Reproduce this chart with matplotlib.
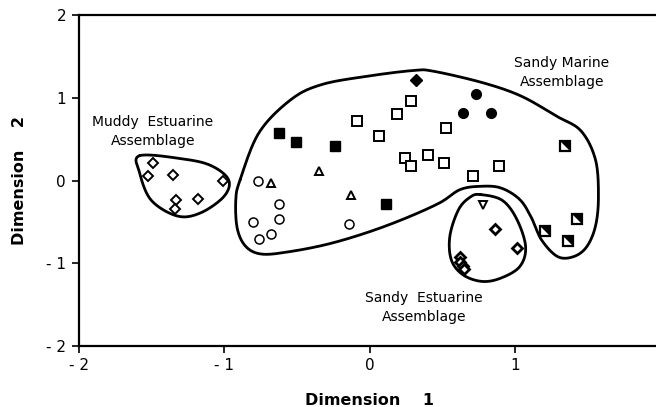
import numpy as np
import matplotlib
matplotlib.use("Agg")
import matplotlib.pyplot as plt

plt.rcParams['font.family'] = ['DejaVu Sans']

# --- sample scores (MDS dimension 1 / dimension 2) ---
muddy_x = [-1.49, -1.52, -1.35, -1.01, -1.33, -1.34, -1.18]
muddy_y = [0.21, 0.05, 0.07, 0.00, -0.24, -0.34, -0.22]

circ_x = [-0.77, -0.62, -0.62, -0.80, -0.68, -0.76, -0.14]
circ_y = [0.00, -0.29, -0.46, -0.50, -0.65, -0.71, -0.53]

tri_x = [-0.68, -0.35, -0.13]
tri_y = [-0.03, 0.11, -0.18]

fsq_x = [-0.62, -0.51, -0.24, 0.11]
fsq_y = [0.57, 0.46, 0.42, -0.28]

osq_x = [0.28, 0.19, -0.09, 0.06, 0.52, 0.24, 0.28, 0.40, 0.51, 0.89, 0.71]
osq_y = [0.96, 0.80, 0.72, 0.54, 0.64, 0.27, 0.17, 0.31, 0.21, 0.17, 0.05]

fcirc_x = [0.73, 0.64, 0.83]
fcirc_y = [1.05, 0.82, 0.81]

fdia_x = [0.32]
fdia_y = [1.21]

half_x = [1.34, 1.42, 1.20, 1.36]
half_y = [0.42, -0.46, -0.61, -0.73]

itri_x = [0.78]
itri_y = [-0.30]

sest_x = [0.86, 1.01, 0.62, 0.62, 0.64, 0.65]
sest_y = [-0.59, -0.82, -0.92, -0.98, -1.03, -1.07]

# --- hand drawn assemblage outlines (guide points, smoothed below) ---
muddy_hull = [(-1.58, 0.30), (-1.28, 0.26), (-1.09, 0.18), (-0.97, 0.01),
              (-1.00, -0.19), (-1.16, -0.39), (-1.32, -0.43), (-1.50, -0.24),
              (-1.58, 0.09)]
marine_hull = [(-0.89, 0.01), (-0.76, 0.58), (-0.54, 0.98), (-0.33, 1.16),
               (-0.02, 1.26), (0.30, 1.33), (0.44, 1.32), (0.78, 1.18),
               (1.04, 1.02), (1.28, 0.78), (1.45, 0.60), (1.55, 0.25),
               (1.57, -0.20), (1.55, -0.55), (1.49, -0.80), (1.40, -0.92),
               (1.29, -0.92), (1.18, -0.72), (1.11, -0.45), (1.03, -0.23),
               (0.90, -0.09), (0.76, -0.07), (0.62, -0.11), (0.48, -0.27),
               (0.24, -0.46), (-0.02, -0.63), (-0.29, -0.77), (-0.55, -0.86),
               (-0.74, -0.89), (-0.85, -0.80), (-0.91, -0.58), (-0.92, -0.23)]
sandy_hull = [(0.76, -0.17), (0.91, -0.24), (1.01, -0.47), (1.07, -0.80),
              (1.03, -1.04), (0.90, -1.18), (0.77, -1.22), (0.64, -1.14),
              (0.56, -0.96), (0.55, -0.67), (0.61, -0.35), (0.69, -0.20)]


def smooth_closed(pts, n=20):
    p = np.asarray(pts, dtype=float)
    m = len(p)
    out = []
    for i in range(m):
        p0, p1, p2, p3 = p[(i - 1) % m], p[i], p[(i + 1) % m], p[(i + 2) % m]
        t = np.linspace(0, 1, n, endpoint=False)[:, None]
        seg = 0.5 * ((2 * p1) + (-p0 + p2) * t
                     + (2 * p0 - 5 * p1 + 4 * p2 - p3) * t ** 2
                     + (-p0 + 3 * p1 - 3 * p2 + p3) * t ** 3)
        out.append(seg)
    out = np.vstack(out)
    return np.vstack([out, out[:1]])


fig = plt.figure(figsize=(6.56, 4.07), dpi=100)
ax = fig.add_axes([0.1197, 0.15, 0.888, 0.813])

for hull in (muddy_hull, marine_hull, sandy_hull):
    h = smooth_closed(hull)
    ax.plot(h[:, 0], h[:, 1], color='black', lw=2.0, solid_capstyle='round')

kw = dict(linestyle='none', color='black', mec='black')
ax.plot(muddy_x, muddy_y, marker='D', ms=5, mfc='white', mew=1.4, **kw)
ax.plot(sest_x, sest_y, marker='D', ms=5, mfc='white', mew=2.0, **kw)
ax.plot(circ_x, circ_y, marker='o', ms=6.5, mfc='white', mew=1.1, **kw)
ax.plot(tri_x, tri_y, marker='^', ms=6, mfc='white', mew=1.4, **kw)
ax.plot(itri_x, itri_y, marker='v', ms=6, mfc='white', mew=1.4, **kw)
ax.plot(fsq_x, fsq_y, marker='s', ms=6.5, mfc='black', mew=1.0, **kw)
ax.plot(osq_x, osq_y, marker='s', ms=6.5, mfc='white', mew=1.4, **kw)
ax.plot(fcirc_x, fcirc_y, marker='o', ms=7, mfc='black', mew=1.0, **kw)
ax.plot(fdia_x, fdia_y, marker='D', ms=6, mfc='black', mew=1.0, **kw)
ax.plot(half_x, half_y, marker='s', ms=6.5, mfc='white', mew=1.6, **kw)
corner = [(-1, 1), (1, 1), (1, -1), (-1, 1)]
ax.plot(half_x, half_y, marker=corner, ms=6.5, mfc='black', mew=0, **kw)

ax.text(-1.49, 0.59, "Muddy  Estuarine\nAssemblage", ha='center', va='center',
        fontsize=10, linespacing=1.45)
ax.text(1.32, 1.30, "Sandy Marine\nAssemblage", ha='center', va='center',
        fontsize=10, linespacing=1.45)
ax.text(0.37, -1.54, "Sandy  Estuarine\nAssemblage", ha='center', va='center',
        fontsize=10, linespacing=1.45)

ax.set_xlim(-2, 2)
ax.set_ylim(-2, 2)
ax.set_xticks([-2, -1, 0, 1, 2])
ax.set_xticklabels(['- 2', '- 1', '0', '1', '2'])
ax.set_yticks([-2, -1, 0, 1, 2])
ax.set_yticklabels(['- 2', '- 1', '0', '1', '2'])
ax.tick_params(direction='out', length=5, width=1.2, labelsize=11, pad=4)
for s in ('left', 'bottom', 'top', 'right'):
    ax.spines[s].set_linewidth(1.6)

ax.set_xlabel("Dimension    1", fontsize=11.5, fontweight='bold', labelpad=14)
ax.set_ylabel("Dimension    2", fontsize=11.5, fontweight='bold', labelpad=14)

fig.savefig("out.png", dpi=100)
